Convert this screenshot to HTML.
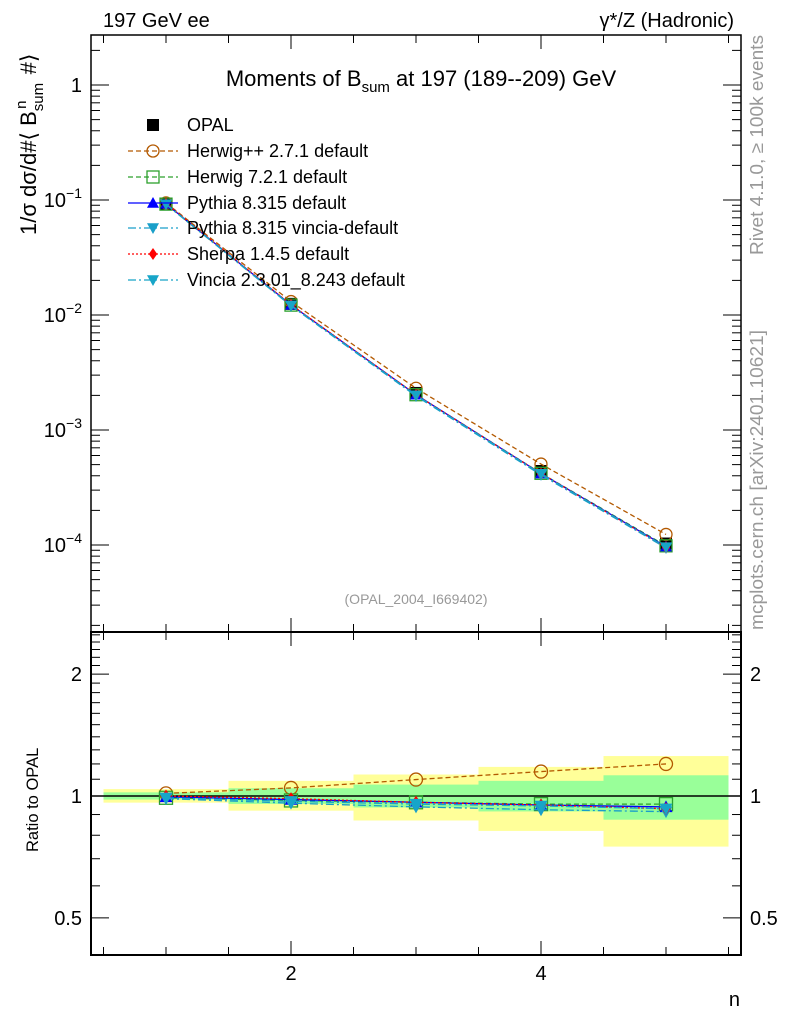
<!DOCTYPE html>
<html><head><meta charset="utf-8"><style>
body{margin:0;background:#fff;}
svg{display:block;font-family:"Liberation Sans",sans-serif;}
</style></head><body>
<svg id="c" width="786" height="1024" viewBox="0 0 786 1024">
<text x="103" y="27" font-size="20">197 GeV ee</text>
<text x="734" y="27" font-size="20" text-anchor="end">γ*/Z (Hadronic)</text>
<text x="421" y="86" font-size="22" text-anchor="middle">Moments of B<tspan font-size="15" dy="6">sum</tspan><tspan dy="-6"> at 197 (189--209) GeV</tspan></text>
<text x="416" y="604" font-size="14" fill="#999" text-anchor="middle">(OPAL_2004_I669402)</text>
<text transform="translate(763,255) rotate(-90)" font-size="18.5" fill="#999" textLength="220" lengthAdjust="spacingAndGlyphs">Rivet 4.1.0, ≥ 100k events</text>
<text transform="translate(763,630) rotate(-90)" font-size="18.5" fill="#999" textLength="300" lengthAdjust="spacingAndGlyphs">mcplots.cern.ch [arXiv:2401.10621]</text>
<text transform="translate(36,235) rotate(-90)" font-size="22">1/σ  dσ/d#⟨ B<tspan font-size="15" dy="7">sum</tspan><tspan font-size="15" dy="-17" dx="-26">n</tspan><tspan dy="10" dx="20"> #⟩</tspan></text>
<text transform="translate(38,852) rotate(-90)" font-size="16.5">Ratio to OPAL</text>
<text x="740" y="1006" font-size="20" text-anchor="end">n</text>
<g id="g"></g>
</svg>
<script>
const nVals=[1,2,3,4,5];
const opal=[0.093,0.0125,0.0021,0.00044,0.000103];
const herwigpp=[1.015,1.047,1.098,1.149,1.2];
const herwig7=[0.99,0.975,0.965,0.955,0.955];
const pythia=[0.995,0.98,0.965,0.95,0.94];
const vinciaDef=[0.985,0.96,0.94,0.925,0.915];
const sherpa=[1.0,0.985,0.965,0.95,0.93];
const vincia2=[0.99,0.97,0.955,0.945,0.93];
const yelUp=[1.04,1.09,1.13,1.18,1.255];
const yelDn=[0.963,0.92,0.87,0.82,0.75];
const grnUp=[1.021,1.045,1.067,1.09,1.125];
const grnDn=[0.98,0.956,0.937,0.916,0.874];
const mainTicks=["1","10^-1","10^-2","10^-3","10^-4"];
const ratioTicks=[0.5,1,2];
const xTicks=[2,4];

const NS="http://www.w3.org/2000/svg";
const g=document.getElementById('g');
const L=91,R=741,T=35,M=632,B=955;
const X=v=>166+(v-1)*125;
const Y=v=>85-115*Math.log10(v);
const YR=v=>796-405*Math.log10(v);
function el(t,a,p){const e=document.createElementNS(NS,t);for(const k in a)e.setAttribute(k,a[k]);(p||g).appendChild(e);return e;}

for(let i=0;i<nVals.length;i++){
 const b=el('rect',{x:X(nVals[i]-0.5),y:YR(yelUp[i]),width:125,height:YR(yelDn[i])-YR(yelUp[i]),fill:'#ffff99'});
 
 
}
for(let i=0;i<nVals.length;i++){
 const b=el('rect',{x:X(nVals[i]-0.5),y:YR(grnUp[i]),width:125,height:YR(grnDn[i])-YR(grnUp[i]),fill:'#99ff99'});
 
 
}
const one=el('line',{x1:L,x2:R,y1:YR(1),y2:YR(1),stroke:'#000','stroke-width':1.5});



const f1=el('rect',{x:L,y:T,width:R-L,height:M-T,fill:'none',stroke:'#000','stroke-width':1.5});


const f2=el('rect',{x:L,y:M,width:R-L,height:B-M,fill:'none',stroke:'#000','stroke-width':2});



for(let v=0.5;v<=5.5;v+=0.5){
 const x=X(v),big=Number.isInteger(v/2)&&v>0;
 const len=big?14:8;
 for(const [y,d] of [[T,1],[M,-1],[M,1],[B,-1]]) el('line',{x1:x,x2:x,y1:y,y2:y+d*len,stroke:'#000'});
}
xTicks.forEach(v=>{const t=el('text',{x:X(v),y:980,'font-size':20,'text-anchor':'middle'});t.textContent=v;
 
 });

for(let d=-5;d<=0;d++){for(let m=1;m<=9;m++){const y=Y(m*Math.pow(10,d));if(y<T||y>M)continue;
 const len=m==1?18:9;el('line',{x1:L,x2:L+len,y1:y,y2:y,stroke:'#000'});el('line',{x1:R,x2:R-len,y1:y,y2:y,stroke:'#000'});}}
mainTicks.forEach((s,i)=>{const y=Y(Math.pow(10,-i));const t=el('text',{x:82,y:y+7,'font-size':20,'text-anchor':'end'});
 if(i==0)t.textContent='1';else{t.textContent='10';const sp=el('tspan',{dy:-9,'font-size':14},t);sp.textContent='−'+i;}
 
 });

[0.4,0.5,0.6,0.7,0.8,0.9,1,1.1,1.2,1.3,1.4,1.5,1.6,1.7,1.8,1.9,2,2.1,2.2,2.3,2.4,2.5].forEach(v=>{const y=YR(v);if(y<M||y>B)return;
 const len=(v==0.5||v==1||v==2)?18:9;el('line',{x1:L,x2:L+len,y1:y,y2:y,stroke:'#000'});el('line',{x1:R,x2:R-len,y1:y,y2:y,stroke:'#000'});});
ratioTicks.forEach(v=>{for(const [x,a] of [[82,'end'],[750,'start']]){const t=el('text',{x:x,y:YR(v)+7,'font-size':20,'text-anchor':a});t.textContent=v;
 
 }});

function marker(type,x,y,c,s){
 if(type=='sq')return el('rect',{x:x-s,y:y-s,width:2*s,height:2*s,fill:c});
 if(type=='osq')return el('rect',{x:x-s,y:y-s,width:2*s,height:2*s,fill:'none',stroke:c,'stroke-width':1.3});
 if(type=='oc')return el('circle',{cx:x,cy:y,r:s,fill:'none',stroke:c,'stroke-width':1.3});
 if(type=='tu')return el('path',{d:`M${x-s},${y+s*0.8}L${x+s},${y+s*0.8}L${x},${y-s}Z`,fill:c});
 if(type=='td')return el('path',{d:`M${x-s},${y-s*0.8}L${x+s},${y-s*0.8}L${x},${y+s}Z`,fill:c});
 if(type=='di')return el('path',{d:`M${x},${y-s}L${x+s*0.7},${y}L${x},${y+s}L${x-s*0.7},${y}Z`,fill:c});
}
const series=[
 {name:'Herwig++ 2.7.1 default',r:herwigpp,c:'#b35900',dash:'5,3',m:'oc'},
 {name:'Herwig 7.2.1 default',r:herwig7,c:'#2ca02c',dash:'5,3',m:'osq'},
 {name:'Pythia 8.315 default',r:pythia,c:'#0000ff',dash:'',m:'tu'},
 {name:'Pythia 8.315 vincia-default',r:vinciaDef,c:'#1a9fc9',dash:'8,3,2,3',m:'td'},
 {name:'Sherpa 1.4.5 default',r:sherpa,c:'#ff0000',dash:'2,2',m:'di'},
 {name:'Vincia 2.3.01_8.243 default',r:vincia2,c:'#17a5c8',dash:'8,3,2,3',m:'td'}
];
opal.forEach((v,i)=>{const m=marker('sq',X(nVals[i]),Y(v),'#000',6);
 
 });
series.forEach((s,k)=>{
 const pm=nVals.map((n,i)=>X(n)+','+Y(opal[i]*s.r[i])).join(' ');
 const pl=el('polyline',{points:pm,fill:'none',stroke:s.c,'stroke-width':1.3,'stroke-dasharray':s.dash});
 
 
 const pr=nVals.map((n,i)=>X(n)+','+YR(s.r[i])).join(' ');
 const rl=el('polyline',{points:pr,fill:'none',stroke:s.c,'stroke-width':1.3,'stroke-dasharray':s.dash});
 
 
 nVals.forEach((n,i)=>{marker(s.m,X(n),Y(opal[i]*s.r[i]),s.c,6);marker(s.m,X(n),YR(s.r[i]),s.c,6.5);});
});
const ly=[125,151,177,203,228,254,280];
const lo=marker('sq',153,ly[0],'#000',6);


const lt=el('text',{x:187,y:ly[0]+6,'font-size':18});lt.textContent='OPAL';


series.forEach((s,k)=>{const y=ly[k+1];
 el('line',{x1:128,x2:178,y1:y,y2:y,stroke:s.c,'stroke-width':1.3,'stroke-dasharray':s.dash});
 marker(s.m,153,y,s.c,6);
 const t=el('text',{x:187,y:y+6,'font-size':18});t.textContent=s.name;
 
 });
</script>
</body></html>
